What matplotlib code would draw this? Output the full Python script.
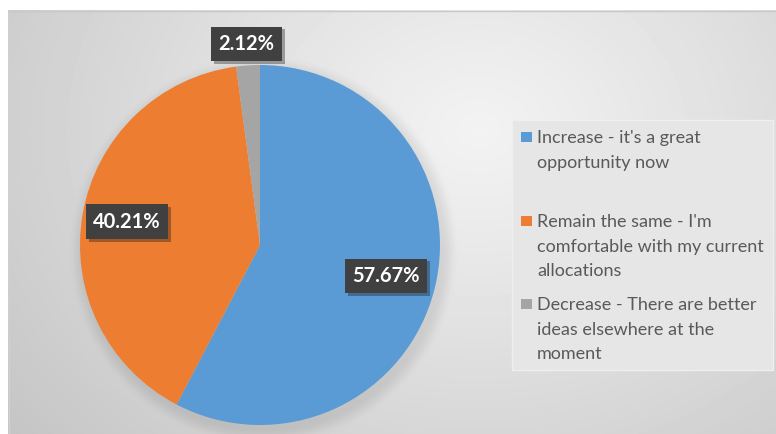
import numpy as np
import matplotlib.pyplot as plt
from matplotlib.patches import Rectangle
import matplotlib.patheffects as pe

categories = [
    "Increase - it's a great\nopportunity now",
    "Remain the same - I'm\ncomfortable with my current\nallocations",
    "Decrease - There are better\nideas elsewhere at the\nmoment",
]
shares = [57.67, 40.21, 2.12]
colors = ["#5B9BD5", "#ED7D31", "#A5A5A5"]
label_radius = [0.72, 0.75, 1.12]

W, H = 776, 434
fig = plt.figure(figsize=(W / 100, H / 100), dpi=100)
fig.patch.set_facecolor("white")

def fx(px):
    return px / W

def fy(py):
    return 1 - py / H

# Chart panel with soft radial gradient and pie drop shadow
left, top = 8, 10
pw, ph = W - left, H - top
bg = fig.add_axes([fx(left), 0, pw / W, ph / H])
bg.set_axis_off()
yy, xx = np.mgrid[0:ph, 0:pw].astype(float)
d = np.hypot((xx - 470) / 1.25, yy - 120)
v = 0.95 - 0.18 * (d / d.max()) ** 1.1
r = np.hypot(xx - (260 - left + 3), yy - (245 - top + 5))
t = np.clip((r - 178) / 18, 0, 1)
v -= 0.08 * (1 - t * t * (3 - 2 * t))
bg.imshow(v, cmap="gray", vmin=0, vmax=1, extent=(0, pw, ph, 0), aspect="auto",
          interpolation="bilinear")
bg.plot([0, pw], [0.5, 0.5], color="#c8c8c8", lw=1)
bg.plot([0.5, 0.5], [0, ph], color="#d0d0d0", lw=1)
bg.set_xlim(0, pw)
bg.set_ylim(ph, 0)

# Pie
cx, cy, R = 260, 245, 180
ax = fig.add_axes([fx(cx - R), fy(cy + R), 2 * R / W, 2 * R / H])
ax.set_facecolor("none")
ax.pie(shares, colors=colors, startangle=90, counterclock=False, radius=1,
       wedgeprops=dict(linewidth=0))
ax.set_xlim(-1, 1)
ax.set_ylim(-1, 1)
ax.set_axis_off()

total = sum(shares)
start = 90.0
for val, rr in zip(shares, label_radius):
    span = val / total * 360
    mid = np.deg2rad(start - span / 2)
    start -= span
    txt = ax.text(rr * np.cos(mid), rr * np.sin(mid), f"{val:.2f}%",
                  ha="center", va="center", color="white", fontsize=14.5,
                  fontweight="bold", family="Lato",
                  bbox=dict(boxstyle="square,pad=0.36", fc="#404040", ec="none"))
    txt.get_bbox_patch().set_path_effects([
        pe.SimplePatchShadow(offset=(2, -2), alpha=0.35), pe.Normal()])

# Legend
fig.patches.append(Rectangle((fx(512), fy(370)), (773 - 512) / W, (370 - 120) / H,
                             transform=fig.transFigure, fc="#e6e6e6", ec="#efefef",
                             lw=1, zorder=1))
first_lines = [137, 221, 304]
line_step = 24.3
for lab, col, y0 in zip(categories, colors, first_lines):
    fig.patches.append(Rectangle((fx(521), fy(y0 + 5)), 11 / W, 10 / H,
                                 transform=fig.transFigure, fc=col, ec="none",
                                 zorder=2))
    for i, line in enumerate(lab.split("\n")):
        fig.text(fx(537), fy(y0 + i * line_step), line, ha="left",
                 va="center_baseline", fontsize=13, color="#595959",
                 family="Lato", zorder=3)

fig.savefig("out.png", dpi=100)
